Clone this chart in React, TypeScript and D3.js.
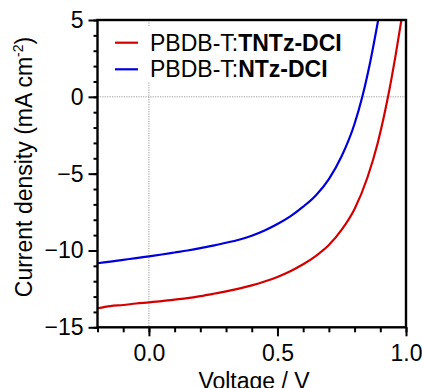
import { useEffect, useRef } from "react";
import * as d3 from "d3";

// J-V curves (V in volts, J in mA cm^-2)
const tntzVoltage = [-0.2, -0.15, -0.1, -0.05, 0.0, 0.05, 0.1, 0.15, 0.2, 0.25, 0.3, 0.35, 0.4, 0.45, 0.5, 0.55, 0.6, 0.65, 0.7, 0.75, 0.8, 0.85, 0.89, 0.93, 0.96, 0.985];
const tntzCurrent = [-13.76, -13.62, -13.55, -13.45, -13.38, -13.3, -13.2, -13.1, -12.97, -12.82, -12.66, -12.48, -12.27, -12.02, -11.72, -11.35, -10.9, -10.35, -9.65, -8.65, -7.3, -5.25, -3.0, 0, 2.75, 5.3];

const ntzVoltage = [-0.2, -0.15, -0.1, -0.05, 0.0, 0.05, 0.1, 0.15, 0.2, 0.25, 0.3, 0.35, 0.4, 0.45, 0.5, 0.55, 0.6, 0.65, 0.7, 0.75, 0.8, 0.83, 0.86, 0.895];
const ntzCurrent = [-10.83, -10.72, -10.61, -10.5, -10.38, -10.26, -10.13, -10.0, -9.85, -9.68, -9.5, -9.3, -9.04, -8.7, -8.28, -7.78, -7.15, -6.4, -5.35, -3.85, -1.75, 0, 2.2, 5.3];

const seriesNames = ["TNTz-DCI", "NTz-DCI"];
const seriesColors = ["#d40000", "#0000dd"];

const xTicks = [0.0, 0.5, 1.0];
const yTicks = [-15, -10, -5, 0, 5];

const FONT = "'Liberation Sans', Arial, sans-serif";
const FS = "23px";

export default function App() {
  const ref = useRef<SVGSVGElement | null>(null);

  useEffect(() => {
    const svg = d3.select(ref.current);
    svg.selectAll("*").remove();

    const left = 97.5, right = 406, top = 20, bottom = 327.3;

    const x = d3.scaleLinear().domain([-0.2, 1.0]).range([left, right]);
    const y = d3.scaleLinear().domain([-15, 5]).range([bottom, top]);

    svg.append("clipPath").attr("id", "plot-clip")
      .append("rect")
      .attr("x", left).attr("y", top)
      .attr("width", right - left).attr("height", bottom - top);

    // dotted zero lines
    svg.append("line")
      .attr("x1", x(0)).attr("x2", x(0))
      .attr("y1", top).attr("y2", bottom)
      .attr("stroke", "#999").attr("stroke-width", 1)
      .attr("stroke-dasharray", "1.2,1.2");
    svg.append("line")
      .attr("x1", left).attr("x2", right)
      .attr("y1", y(0)).attr("y2", y(0))
      .attr("stroke", "#999").attr("stroke-width", 1)
      .attr("stroke-dasharray", "1.2,1.2");

    // curves
    const line = d3.line<[number, number]>()
      .x(d => x(d[0]))
      .y(d => y(d[1]))
      .curve(d3.curveMonotoneX);

    const series = [
      d3.zip(tntzVoltage, tntzCurrent) as [number, number][],
      d3.zip(ntzVoltage, ntzCurrent) as [number, number][],
    ];

    const g = svg.append("g").attr("clip-path", "url(#plot-clip)");
    series.forEach((pts, i) => {
      g.append("path")
        .attr("d", line(pts))
        .attr("fill", "none")
        .attr("stroke", seriesColors[i])
        .attr("stroke-width", 2.2);
    });

    // legend (white box hides the dotted line)
    svg.append("rect")
      .attr("x", 108).attr("y", 27)
      .attr("width", 240).attr("height", 55)
      .attr("fill", "#fff");

    seriesNames.forEach((name, i) => {
      const ly = 42.7 + i * 26.6;
      svg.append("line")
        .attr("x1", 115).attr("x2", 138)
        .attr("y1", ly).attr("y2", ly)
        .attr("stroke", seriesColors[i])
        .attr("stroke-width", 2.2);
      const t = svg.append("text")
        .attr("x", 150).attr("y", ly + 8)
        .style("font-family", FONT)
        .style("font-size", FS)
        .attr("fill", "#000");
      t.append("tspan").text("PBDB-T:");
      t.append("tspan").attr("font-weight", "bold").text(name);
    });

    // axes
    const xAxis = svg.append("g").attr("transform", `translate(0,${bottom})`);
    xAxis.call(d3.axisBottom(x).tickValues(d3.range(-2, 11).map(d => d / 10)).tickSize(5).tickFormat(() => ""));
    xAxis.select(".domain").remove();
    xAxis.selectAll("line").attr("stroke", "#000").attr("stroke-width", 2);

    const xMajor = svg.append("g").attr("transform", `translate(0,${bottom})`);
    xMajor.call(d3.axisBottom(x).tickValues(xTicks).tickSize(9).tickPadding(8).tickFormat(d3.format(".1f")));
    xMajor.select(".domain").remove();
    xMajor.selectAll("line").attr("stroke", "#000").attr("stroke-width", 2);
    xMajor.selectAll("text")
      .style("font-family", FONT).style("font-size", FS).attr("fill", "#000");

    const yAxis = svg.append("g").attr("transform", `translate(${left},0)`);
    yAxis.call(d3.axisLeft(y).tickValues(d3.range(-15, 6)).tickSize(4).tickFormat(() => ""));
    yAxis.select(".domain").remove();
    yAxis.selectAll("line").attr("stroke", "#000").attr("stroke-width", 2);

    const yMajor = svg.append("g").attr("transform", `translate(${left},0)`);
    yMajor.call(d3.axisLeft(y).tickValues(yTicks).tickSize(9).tickPadding(5).tickFormat(d => d3.format("d")(d as number).replace("-", "\u2212")));
    yMajor.select(".domain").remove();
    yMajor.selectAll("line").attr("stroke", "#000").attr("stroke-width", 2);
    yMajor.selectAll("text")
      .style("font-family", FONT).style("font-size", FS).attr("fill", "#000");

    // frame
    svg.append("rect")
      .attr("x", left).attr("y", top)
      .attr("width", right - left).attr("height", bottom - top)
      .attr("fill", "none").attr("stroke", "#000").attr("stroke-width", 2.4);

    // axis titles
    svg.append("text")
      .attr("x", 254).attr("y", 389)
      .attr("text-anchor", "middle")
      .style("font-family", FONT).style("font-size", FS)
      .text("Voltage / V");

    const yl = svg.append("text")
      .attr("transform", `translate(32,167) rotate(-90)`)
      .attr("text-anchor", "middle")
      .style("font-family", FONT).style("font-size", FS);
    yl.append("tspan").text("Current density (mA cm");
    yl.append("tspan").attr("dy", -9).style("font-size", "14px").text("-2");
    yl.append("tspan").attr("dy", 9).text(")");
  }, []);

  return (
    <svg ref={ref} width={422} height={388}
      style={{ position: "absolute", left: 0, top: 0, background: "#fff" }} />
  );
}
